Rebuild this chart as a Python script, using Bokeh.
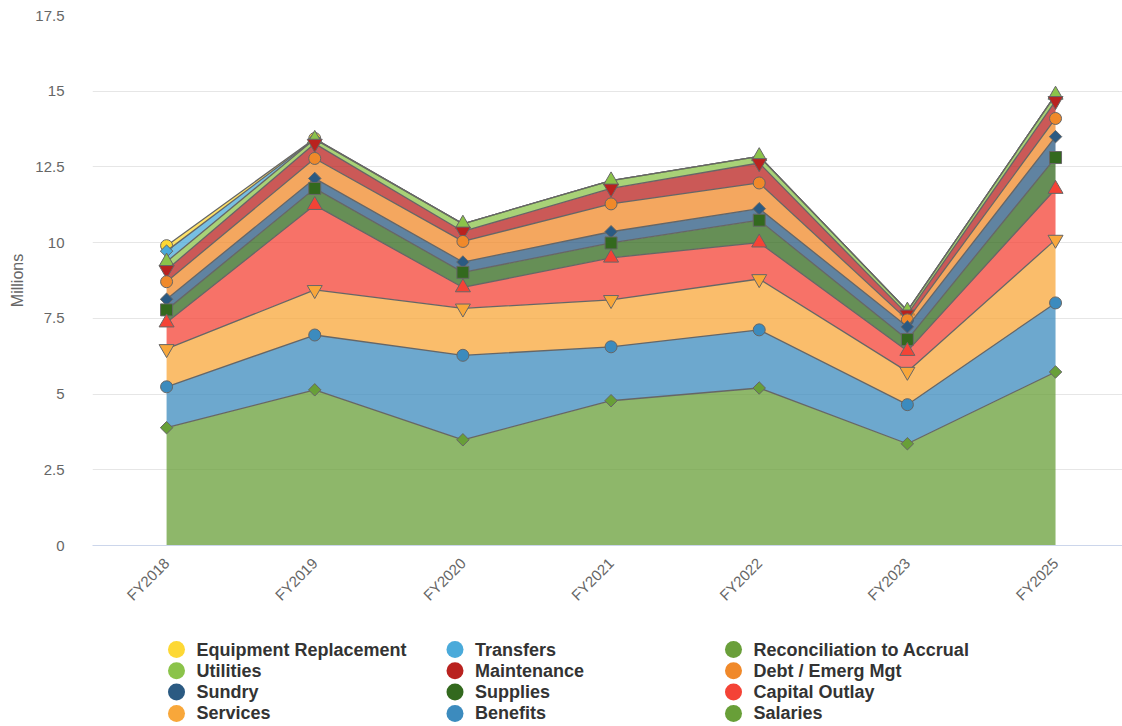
import math
from bokeh.plotting import figure
from bokeh.models import Range1d, FixedTicker, ColumnDataSource
from bokeh.layouts import column
from bokeh.embed import file_html
from bokeh.resources import INLINE
from bokeh.core.properties import value

years = ["FY2018", "FY2019", "FY2020", "FY2021", "FY2022", "FY2023", "FY2025"]

# values in millions (series drawn in this order; first is top of stack)
equipment = [0.18, 0.02, None, None, None, None, None]
transfers = [0.35, 0.0, None, None, None, None, None]
reconciliation = [None, None, None, None, None, None, None]
utilities = [0.27, 0.15, 0.25, 0.26, 0.22, 0.12, 0.20]
maintenance = [0.39, 0.49, 0.33, 0.51, 0.66, 0.18, 0.58]
debt = [0.58, 0.66, 0.68, 0.92, 0.85, 0.23, 0.60]
sundry = [0.35, 0.33, 0.34, 0.37, 0.38, 0.42, 0.69]
supplies = [0.42, 0.55, 0.50, 0.49, 0.74, 0.38, 1.04]
capital = [0.87, 2.80, 0.69, 1.39, 1.20, 0.68, 1.67]
services = [1.25, 1.49, 1.55, 1.55, 1.68, 1.09, 2.09]
benefits = [1.35, 1.81, 2.79, 1.78, 1.92, 1.29, 2.28]
salaries = [3.89, 5.14, 3.49, 4.78, 5.20, 3.36, 5.73]

y_ticks = [0, 2.5, 5, 7.5, 10, 12.5, 15, 17.5]
y_tick_labels = ["0", "2.5", "5", "7.5", "10", "12.5", "15", "17.5"]

series = [
    ("Equipment Replacement", equipment, "#FDD835", "circle"),
    ("Transfers", transfers, "#4AAADA", "diamond"),
    ("Reconciliation to Accrual", reconciliation, "#6A9F3A", "square"),
    ("Utilities", utilities, "#8BC34A", "triangle"),
    ("Maintenance", maintenance, "#B9221F", "inverted_triangle"),
    ("Debt / Emerg Mgt", debt, "#F0892A", "circle"),
    ("Sundry", sundry, "#2B5A82", "diamond"),
    ("Supplies", supplies, "#33691E", "square"),
    ("Capital Outlay", capital, "#F44336", "triangle"),
    ("Services", services, "#F8A73A", "inverted_triangle"),
    ("Benefits", benefits, "#3C8BBE", "circle"),
    ("Salaries", salaries, "#689F38", "diamond"),
]

FONT = "Liberation Sans"
n = len(years)
xs = list(range(n))

# compute stacks from bottom (last series) upward
bottoms = {}
tops = {}
base = [0.0] * n
for name, vals, color, marker in reversed(series):
    b = list(base)
    t = [b[i] + (vals[i] if vals[i] is not None else 0.0) for i in range(n)]
    bottoms[name] = b
    tops[name] = t
    base = t

W = 1122
LEFT = 92
p = figure(width=W, height=612, output_backend="svg", toolbar_location=None,
           x_range=Range1d(-0.5, 6.452), y_range=Range1d(0, 17.5),
           min_border_left=LEFT, min_border_right=0, min_border_top=15, min_border_bottom=66)
p.outline_line_color = None
p.background_fill_color = "white"
p.border_fill_color = "white"

for name, vals, color, marker in series:
    if all(v is None for v in vals):
        continue
    src = ColumnDataSource(dict(x=xs, y1=bottoms[name], y2=tops[name]))
    p.varea(x="x", y1="y1", y2="y2", source=src, fill_color=color, fill_alpha=0.75)
    p.line(x="x", y="y2", source=src, line_color="#666666", line_width=1.3)
    mx = [xs[i] for i in range(n) if vals[i] is not None]
    my = [tops[name][i] for i in range(n) if vals[i] is not None]
    msrc = ColumnDataSource(dict(x=mx, y=my))
    if marker == "diamond":
        p.scatter(x="x", y="y", source=msrc, marker="square", angle=math.pi / 4, size=8.8,
                  fill_color=color, line_color="#666666", line_width=1)
    elif marker in ("triangle", "inverted_triangle"):
        p.scatter(x="x", y="y", source=msrc, marker=marker, size=15,
                  fill_color=color, line_color="#666666", line_width=1)
    else:
        p.scatter(x="x", y="y", source=msrc, marker=marker, size=12,
                  fill_color=color, line_color="#666666", line_width=1)

# axes
p.xaxis.ticker = FixedTicker(ticks=xs)
p.xaxis.major_label_overrides = {i: years[i] for i in xs}
p.xaxis.major_label_orientation = math.pi / 4
p.xaxis.major_label_text_font = FONT
p.xaxis.major_label_text_font_size = "15px"
p.xaxis.major_label_text_color = "#666666"
p.xaxis.axis_line_color = "#ccd6eb"
p.xaxis.major_tick_line_color = None
p.xaxis.minor_tick_line_color = None
p.xaxis.major_label_standoff = 9

p.yaxis.ticker = FixedTicker(ticks=y_ticks)
p.yaxis.major_label_overrides = {t: l for t, l in zip(y_ticks, y_tick_labels)}
p.yaxis.major_label_text_font = FONT
p.yaxis.major_label_text_font_size = "15px"
p.yaxis.major_label_text_color = "#666666"
p.yaxis.axis_line_color = None
p.yaxis.major_tick_line_color = None
p.yaxis.minor_tick_line_color = None
p.yaxis.major_label_standoff = 22
p.yaxis.axis_label = "Millions"
p.yaxis.axis_label_text_font = FONT
p.yaxis.axis_label_text_font_size = "16px"
p.yaxis.axis_label_text_font_style = "normal"
p.yaxis.axis_label_text_color = "#666666"
p.yaxis.axis_label_standoff = 6

p.xgrid.grid_line_color = None
p.ygrid.grid_line_color = "#e6e6e6"
p.ygrid.ticker = FixedTicker(ticks=y_ticks[1:])

# legend (3 columns, row-major, Highcharts order); its frame is aligned with
# the chart frame by the column layout, so the x range spans page pixels LEFT..W
leg_h = 114
lg = figure(width=W, height=leg_h, output_backend="svg", toolbar_location=None,
            x_range=Range1d(LEFT, W), y_range=Range1d(leg_h, 0),
            x_axis_location=None, y_axis_location=None,
            min_border_left=LEFT, min_border_right=0, min_border_top=0, min_border_bottom=0)
lg.outline_line_color = None
lg.xgrid.grid_line_color = None
lg.ygrid.grid_line_color = None
names = [s[0] for s in series]
colors = [s[2] for s in series]
cx = [176 + (i % 3) * 278.5 for i in range(len(series))]
cy = [37 + (i // 3) * 21.3 for i in range(len(series))]
lsrc = ColumnDataSource(dict(x=cx, y=cy, tx=[c + 20 for c in cx], name=names, color=colors))
lg.scatter(x="x", y="y", source=lsrc, size=17, fill_color="color", line_color=None)
lg.text(x="tx", y="y", text="name", source=lsrc, text_font=value(FONT), text_font_size="18px",
        text_font_style="bold", text_color="#333333", text_baseline="middle")

layout = column(p, lg, spacing=0)
open("out.html", "w").write(file_html(layout, INLINE))
